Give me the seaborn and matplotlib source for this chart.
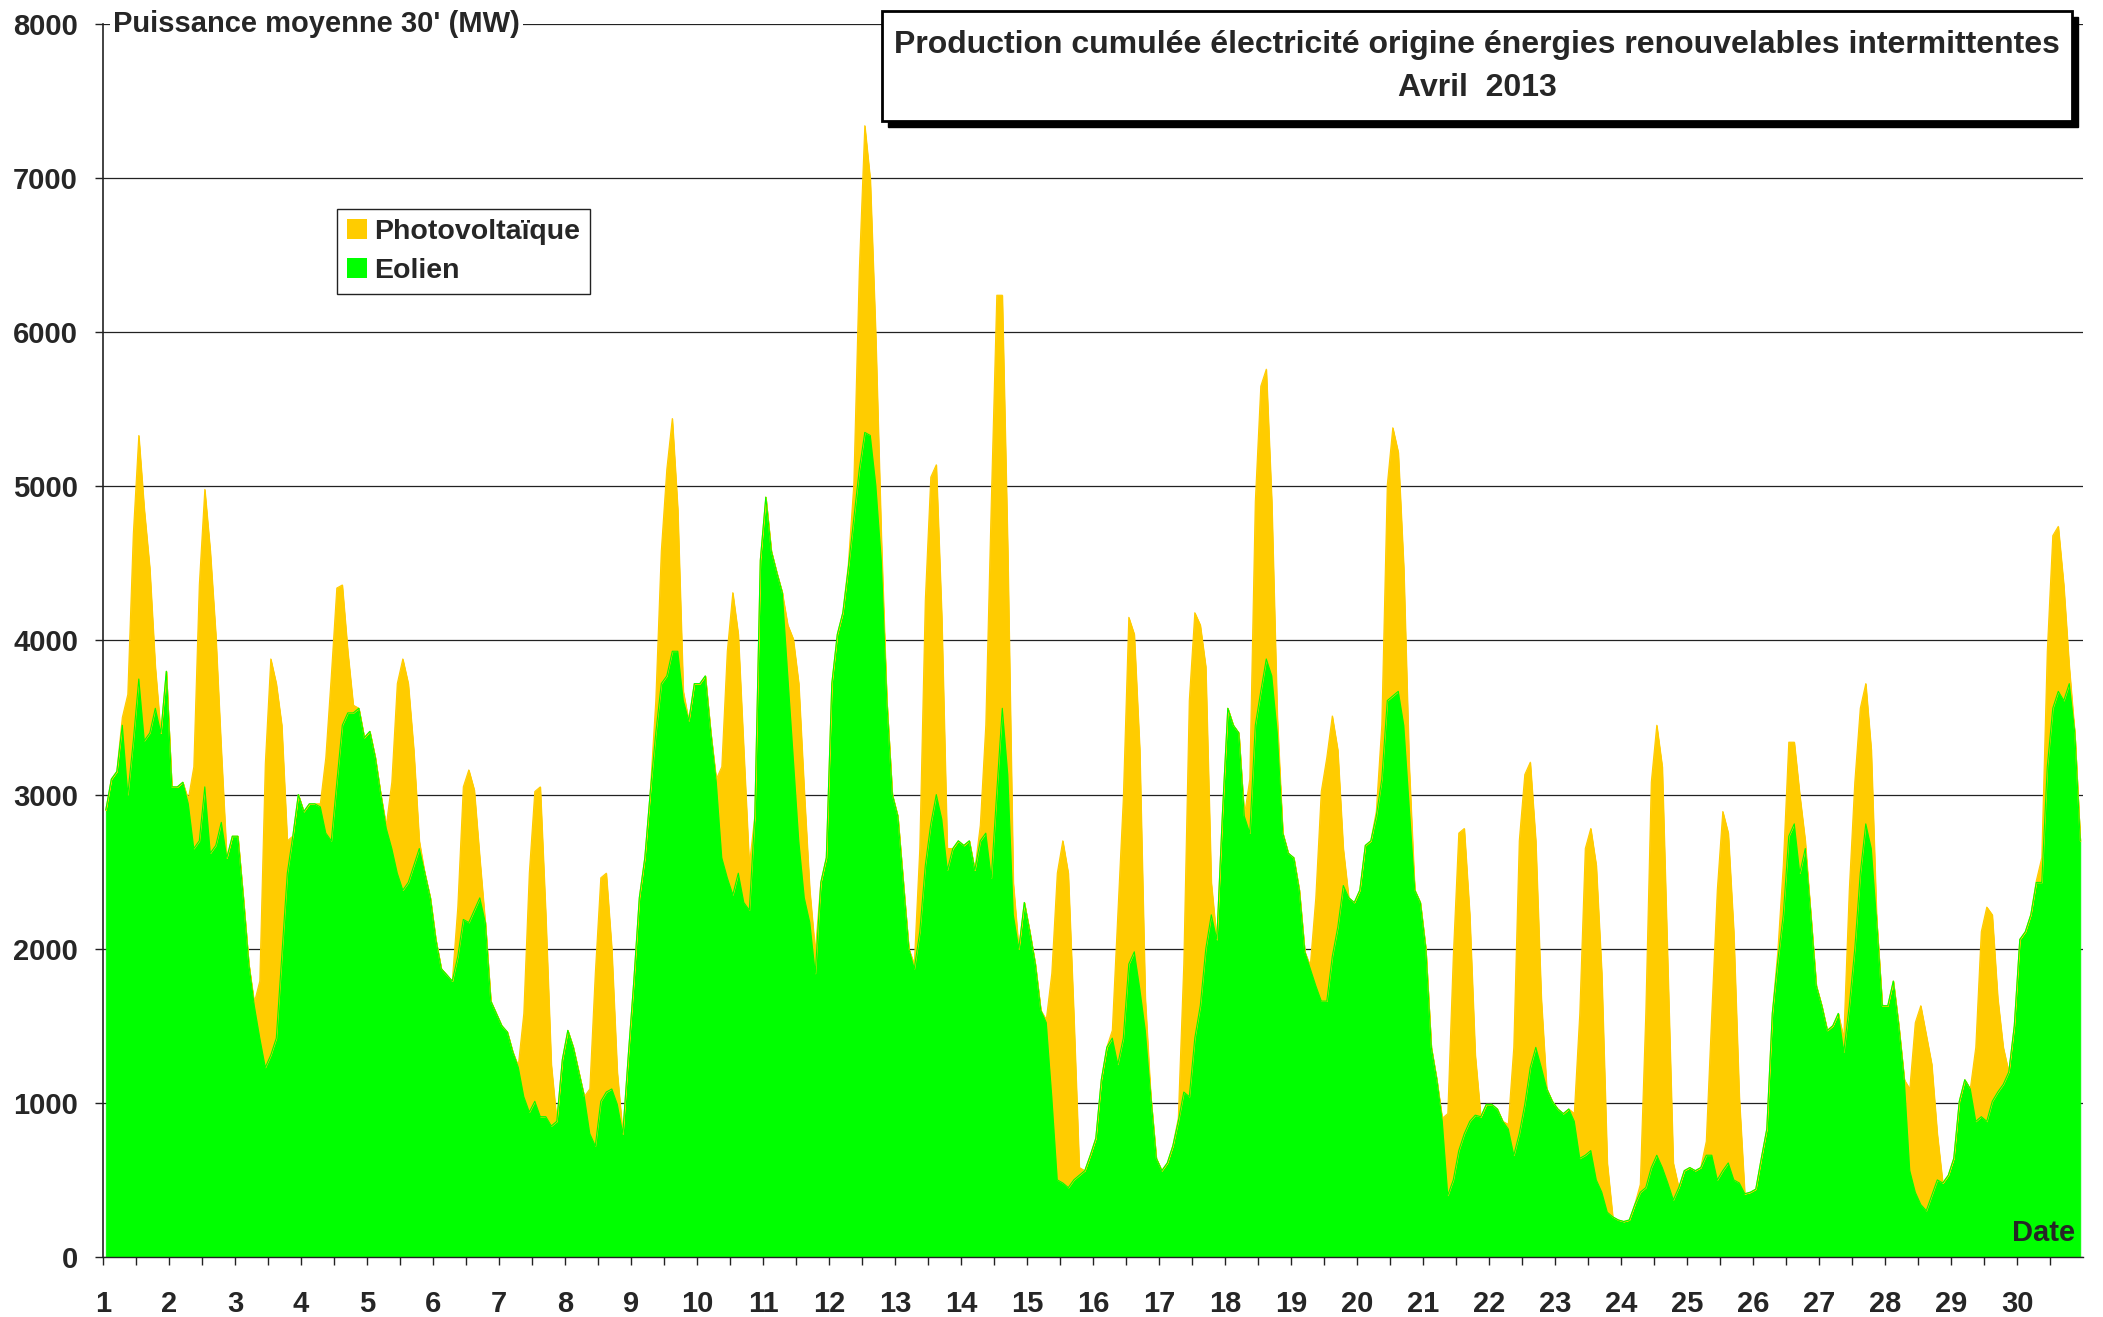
import numpy as np
import matplotlib
matplotlib.use("Agg")
import matplotlib.pyplot as plt
import matplotlib.patches as mpatches
import seaborn as sns
import pandas as pd

# half-hourly curve read back at 2-hour steps (MW), April 2013
days = list(range(1, 31))
wind_hours = [1, 3, 5, 7, 9, 11, 13, 15, 17, 19, 21, 23]
pv_hours = [7, 9, 11, 13, 15, 17, 19]

eolien = [
    [2900, 3100, 3150, 3450, 3000, 3350, 3750, 3350, 3400, 3560, 3400, 3800],
    [3050, 3050, 3080, 2940, 2650, 2700, 3050, 2620, 2670, 2820, 2590, 2730],
    [2730, 2330, 1900, 1630, 1420, 1230, 1310, 1420, 1950, 2490, 2730, 3000],
    [2890, 2940, 2940, 2920, 2750, 2700, 3080, 3450, 3530, 3530, 3560, 3370],
    [3410, 3240, 3000, 2780, 2650, 2490, 2380, 2430, 2540, 2650, 2490, 2330],
    [2060, 1870, 1830, 1790, 1950, 2190, 2170, 2250, 2330, 2170, 1660, 1580],
    [1500, 1460, 1330, 1230, 1040, 940, 1010, 910, 910, 850, 880, 1280],
    [1470, 1360, 1200, 1040, 800, 720, 1010, 1070, 1090, 990, 800, 1310],
    [1790, 2330, 2590, 3020, 3400, 3720, 3770, 3930, 3930, 3610, 3480, 3720],
    [3720, 3770, 3400, 3080, 2590, 2460, 2350, 2490, 2300, 2250, 2860, 4520],
    [4930, 4580, 4440, 4310, 3770, 3240, 2700, 2330, 2170, 1840, 2430, 2590],
    [3720, 4040, 4180, 4470, 4790, 5110, 5350, 5330, 5010, 4520, 3610, 3000],
    [2860, 2430, 2000, 1870, 2110, 2540, 2810, 3000, 2840, 2510, 2650, 2700],
    [2670, 2700, 2510, 2700, 2750, 2460, 3020, 3560, 3130, 2220, 2000, 2300],
    [2110, 1900, 1600, 1520, 1040, 500, 480, 450, 500, 530, 560, 660],
    [770, 1150, 1360, 1420, 1250, 1420, 1900, 1980, 1740, 1470, 1040, 640],
    [560, 610, 720, 880, 1070, 1040, 1420, 1630, 2000, 2220, 2060, 2860],
    [3560, 3450, 3400, 2860, 2750, 3450, 3670, 3880, 3770, 3400, 2750, 2620],
    [2590, 2380, 1980, 1870, 1760, 1660, 1660, 1950, 2140, 2410, 2330, 2300],
    [2380, 2670, 2700, 2860, 3100, 3610, 3640, 3670, 3450, 2920, 2380, 2300],
    [2000, 1360, 1150, 880, 400, 500, 690, 800, 880, 920, 910, 990],
    [990, 960, 880, 830, 660, 800, 990, 1230, 1360, 1230, 1090, 1010],
    [960, 930, 960, 880, 640, 660, 690, 500, 420, 290, 260, 240],
    [230, 240, 340, 420, 450, 580, 660, 580, 480, 370, 450, 560],
    [580, 560, 580, 660, 660, 500, 560, 610, 500, 480, 410, 420],
    [440, 640, 830, 1580, 1920, 2220, 2730, 2810, 2490, 2650, 2220, 1760],
    [1630, 1470, 1500, 1580, 1330, 1630, 2000, 2490, 2810, 2650, 2170, 1630],
    [1630, 1790, 1500, 1150, 560, 420, 340, 300, 400, 500, 480, 530],
    [640, 1010, 1150, 1090, 880, 910, 880, 1010, 1070, 1120, 1200, 1500],
    [2060, 2110, 2220, 2430, 2430, 3180, 3560, 3670, 3610, 3720, 3400, 2700],
]

photovoltaique = [
    [50, 650, 1340, 1580, 1500, 1070, 270],
    [30, 530, 1660, 1930, 1960, 1370, 470],
    [20, 370, 1970, 2570, 2300, 1500, 210],
    [20, 490, 1070, 1260, 910, 400, 50],
    [20, 430, 1230, 1500, 1290, 750, 50],
    [0, 320, 860, 990, 780, 260, 0],
    [10, 540, 1550, 2010, 2140, 1310, 400],
    [0, 290, 1120, 1450, 1420, 910, 210],
    [0, 210, 860, 1340, 1510, 920, 60],
    [20, 590, 1470, 1960, 1550, 990, 290],
    [0, 330, 770, 1020, 690, 210, 140],
    [20, 220, 1290, 1990, 1660, 960, 160],
    [30, 540, 1720, 2250, 2140, 1310, 140],
    [100, 700, 2440, 3220, 2680, 1450, 210],
    [20, 800, 1990, 2220, 2040, 1080, 50],
    [50, 970, 1550, 2250, 2060, 1550, 210],
    [20, 830, 2570, 2760, 2470, 1830, 210],
    [0, 350, 1450, 1980, 1880, 1130, 110],
    [20, 570, 1360, 1580, 1560, 1150, 240],
    [30, 350, 1400, 1740, 1550, 1020, 260],
    [20, 530, 1450, 2060, 1980, 1340, 390],
    [30, 700, 1900, 2140, 1980, 1340, 450],
    [50, 940, 1990, 2090, 2040, 1420, 320],
    [50, 1130, 2500, 2790, 2600, 1420, 240],
    [90, 920, 1880, 2330, 2140, 1610, 560],
    [0, 60, 320, 610, 530, 510, 50],
    [0, 90, 750, 1080, 1070, 910, 640],
    [0, 530, 1100, 1290, 1140, 850, 300],
    [0, 480, 1200, 1390, 1210, 610, 240],
    [10, 160, 750, 1120, 1070, 750, 110],
]

green = "#00FF00"
yellow = "#FFCC00"

rows = []
for i, d in enumerate(days):
    for j, h in enumerate(wind_hours):
        pv = photovoltaique[i][pv_hours.index(h)] if h in pv_hours else 0
        rows.append({"t": d + h / 24, "eolien": eolien[i][j], "pv": pv})
df = pd.DataFrame(rows)
df["total"] = df["eolien"] + df["pv"]

sns.set_theme(style="white")
plt.rcParams["font.family"] = ["Liberation Sans", "DejaVu Sans"]
plt.rcParams["font.weight"] = "bold"

fig = plt.figure(figsize=(21.03, 13.17), dpi=100)
ax = fig.add_axes([0.049, 0.0456, 0.9415, 0.9362])

ax.fill_between(df["t"], 0, df["eolien"], color=green, lw=0.6, zorder=2)
ax.fill_between(df["t"], df["eolien"], df["total"], color=yellow, lw=0.6, zorder=2)
sns.lineplot(data=df, x="t", y="total", color=yellow, lw=0.8, ax=ax, zorder=2)
sns.lineplot(data=df, x="t", y="eolien", color=green, lw=0.8, ax=ax, zorder=3)

ax.set_xlim(1, 31)
ax.set_ylim(0, 8000)
ax.set_xticks(days)
ax.set_xticklabels([str(d) for d in days])
ax.set_xticks([d + 0.5 for d in days], minor=True)
ax.set_yticks(range(0, 8001, 1000))
ax.set_xlabel("")
ax.set_ylabel("")
ax.set_axisbelow(True)
ax.yaxis.grid(True, color="#222222", lw=0.9)
ax.xaxis.grid(False)

for s in ["top", "right"]:
    ax.spines[s].set_visible(False)
ax.spines["left"].set_color("#222222")
ax.spines["left"].set_linewidth(1.2)
ax.spines["left"].set_zorder(5)
ax.spines["bottom"].set_color("#222222")
ax.spines["bottom"].set_linewidth(1.0)

ax.tick_params(axis="y", which="major", direction="out", length=6, width=1,
               color="#222222", pad=12, labelsize=21, left=True)
ax.tick_params(axis="x", which="both", direction="out", length=6, width=1,
               color="#222222", pad=18, labelsize=21, bottom=True)
for lab in ax.get_xticklabels() + ax.get_yticklabels():
    lab.set_fontweight("bold")

ax.text(0.005, 1.0, "Puissance moyenne 30' (MW)", transform=ax.transAxes,
        ha="left", va="center", fontsize=21, fontweight="bold", clip_on=False,
        bbox=dict(facecolor="white", edgecolor="none", pad=2), zorder=6)
ax.text(0.996, 0.008, "Date", transform=ax.transAxes, ha="right", va="bottom",
        fontsize=21, fontweight="bold", zorder=6)

handles = [mpatches.Patch(facecolor=yellow, edgecolor="none", label="Photovoltaïque"),
           mpatches.Patch(facecolor=green, edgecolor="none", label="Eolien")]
leg = ax.legend(handles=handles, loc="upper left",
                bbox_to_anchor=(337 / 2103, 1 - 209 / 1317),
                bbox_transform=fig.transFigure, frameon=True, fancybox=False,
                framealpha=1, edgecolor="#222222", borderaxespad=0,
                handlelength=0.7, handleheight=0.7, handletextpad=0.25,
                borderpad=0.35, labelspacing=0.45,
                prop={"size": 20.5, "weight": "bold"})
leg.get_frame().set_linewidth(1.0)

# title box with drop shadow
bx, by, bw, bh = 882 / 2103, 1 - 121 / 1317, 1190 / 2103, 110 / 1317
fig.patches.append(mpatches.Rectangle((bx + 6 / 2103, by - 6 / 1317), bw, bh,
                                      transform=fig.transFigure, facecolor="black",
                                      edgecolor="black", zorder=10))
fig.patches.append(mpatches.Rectangle((bx, by), bw, bh, transform=fig.transFigure,
                                      facecolor="white", edgecolor="black", lw=2,
                                      zorder=11))
fig.text(bx + bw / 2, 1 - 45 / 1317,
         "Production cumulée électricité origine énergies renouvelables intermittentes",
         ha="center", va="center", fontsize=23, fontweight="bold", zorder=12)
fig.text(bx + bw / 2, 1 - 88 / 1317, "Avril  2013", ha="center", va="center",
         fontsize=23, fontweight="bold", zorder=12)

fig.savefig("out.png", dpi=100, facecolor="white")
